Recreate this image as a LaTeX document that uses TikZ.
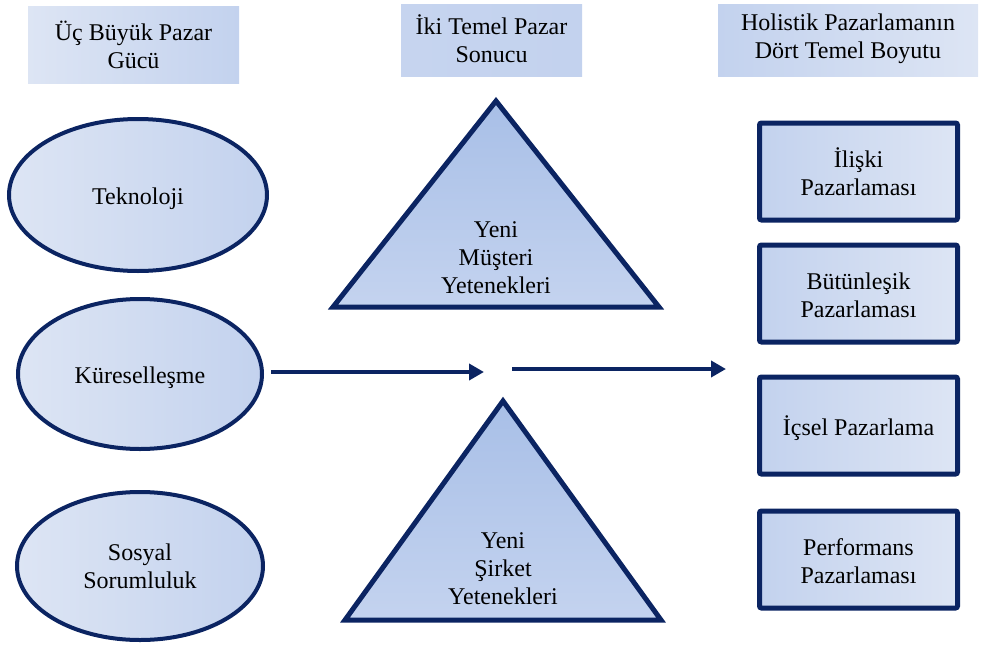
\documentclass[tikz,border=0pt]{standalone}
\usepackage{fontspec}
\setmainfont{Liberation Serif}
\usetikzlibrary{arrows.meta,shapes.geometric}
\definecolor{navy}{HTML}{0B2462}
\definecolor{lightA}{HTML}{DDE5F4}
\definecolor{lightB}{HTML}{C3D2EE}
\definecolor{midB}{HTML}{C6D4EF}
\definecolor{triTop}{HTML}{A8BFE7}
\definecolor{triBot}{HTML}{C4D3EF}
\tikzset{
  txt/.style={font=\fontsize{24}{28}\selectfont, align=center, text=black, inner sep=0pt},
  header/.style={draw=none, left color=lightA, right color=lightB, inner sep=0pt},
  oval/.style={ellipse, draw=navy, line width=4pt, left color=lightA, right color=lightB, inner sep=0pt},
  dimbox/.style={draw=navy, line width=5pt, rounded corners=2pt, left color=lightB, right color=lightA, minimum width=198pt, minimum height=97pt, inner sep=0pt},
  tri/.style={draw=navy, line width=5pt, line join=miter, top color=triTop, bottom color=triBot},
  flow/.style={draw=navy, line width=4pt, -{Triangle[length=15pt,width=16pt]}}
}
\begin{document}
\begin{tikzpicture}[x=1pt,y=-1pt]
\useasboundingbox (0,0) rectangle (999,645);
% headers
\node[header, minimum width=211pt, minimum height=77pt] (h1) at (133.5,44.5) {};
\node[txt] (h1t) at (133.5,45) {Üç Büyük Pazar\\Gücü};
\node[header, minimum width=181pt, minimum height=72pt, left color=midB, right color=lightB] (h2) at (491.5,40.5) {};
\node[txt] (h2t) at (491.5,39) {İki Temel Pazar\\Sonucu};
\node[header, minimum width=260pt, minimum height=72pt, left color=lightB, right color=lightA] (h3) at (848,40.5) {};
\node[txt] (h3t) at (848,39) {Holistik Pazarlamanın\\Dört Temel Boyutu};
% ellipses
\node[oval, minimum width=258pt, minimum height=152pt] (tek) at (138,195) {};
\node[txt] (tekt) at (tek.center) [yshift=-4pt] {Teknoloji};
\node[oval, minimum width=244pt, minimum height=150pt] (kur) at (140,374) {};
\node[txt] (kurt) at (kur.center) [yshift=-4pt] {Küreselleşme};
\node[oval, minimum width=246pt, minimum height=148pt] (sos) at (140,566) {};
\node[txt] (sost) at (sos.center) [yshift=0pt] {Sosyal\\Sorumluluk};
% triangles
\draw[tri] (333,307) -- (496,101) -- (659,307) -- cycle;
\node[txt] (musteri) at (496,258) {Yeni\\Müşteri\\Yetenekleri};
\draw[tri] (345,620) -- (503,401) -- (661,620) -- cycle;
\node[txt] (sirket) at (503,569) {Yeni\\Şirket\\Yetenekleri};
% right boxes
\node[dimbox] (b1) at (858.5,171.5) {};
\node[txt] (b1t) at (b1.center) {İlişki\\Pazarlaması};
\node[dimbox] (b2) at (858.5,293.5) {};
\node[txt] (b2t) at (b2.center) [yshift=-2pt] {Bütünleşik\\Pazarlaması};
\node[dimbox] (b3) at (858.5,425.5) {};
\node[txt] (b3t) at (b3.center) [yshift=-3pt] {İçsel Pazarlama};
\node[dimbox] (b4) at (858.5,559.5) {};
\node[txt] (b4t) at (b4.center) [yshift=-2pt] {Performans\\Pazarlaması};
% arrows
\coordinate (a1s) at (271,372);
\coordinate (a1e) at (484,372);
\coordinate (a2s) at (512,369);
\coordinate (a2e) at (726,369);
\draw[flow] (a1s) -- (a1e);
\draw[flow] (a2s) -- (a2e);
\end{tikzpicture}
\end{document}
